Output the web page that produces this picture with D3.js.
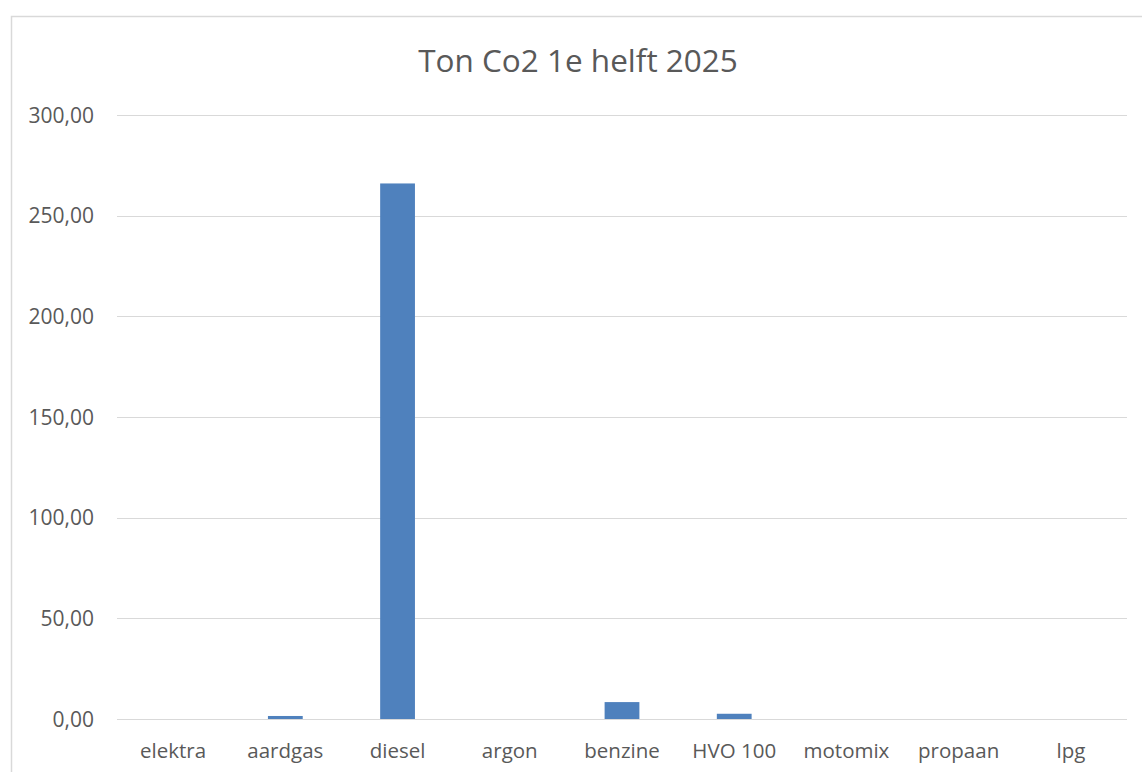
<!DOCTYPE html>
<html>
<head>
<meta charset="utf-8">
<script src="https://cdn.jsdelivr.net/npm/d3@7"></script>
<style>
  html, body { margin: 0; padding: 0; background: #fff; overflow: hidden; }
  svg { display: block; font-family: "Open Sans", "Noto Sans", sans-serif; }
</style>
</head>
<body>
<svg id="chart" width="1142" height="772"></svg>
<script>
// Ton CO2 per brandstof, eerste helft 2025
const categories = ["elektra", "aardgas", "diesel", "argon", "benzine", "HVO 100", "motomix", "propaan", "lpg"];
const values = [0, 1.5, 266, 0, 8.4, 2.6, 0, 0, 0];
const yTicks = [0, 50, 100, 150, 200, 250, 300];
const title = "Ton Co2 1e helft 2025";

(function () {
  const W = 1142, H = 772;
  const plot = { left: 117, right: 1127, top: 115, bottom: 719 };
  const svg = d3.select("#chart");

  // chart area frame (runs off the right and bottom edges)
  svg.append("rect")
    .attr("x", 11.5).attr("y", 16.5)
    .attr("width", W + 10).attr("height", H + 10)
    .attr("fill", "#fff").attr("stroke", "#d9d9d9").attr("stroke-width", 1.5);

  svg.append("text")
    .attr("x", 578).attr("y", 72)
    .attr("text-anchor", "middle")
    .attr("font-size", 31.5)
    .attr("fill", "#595959")
    .text(title);

  const x = d3.scaleBand().domain(categories).range([plot.left, plot.right]).paddingInner(0.69).paddingOuter(0.345);
  const y = d3.scaleLinear().domain([0, 300]).range([plot.bottom, plot.top]);

  const fmt = v => d3.format(".2f")(v).replace(".", ",");

  // gridlines
  svg.append("g").selectAll("line")
    .data(yTicks.filter(t => t > 0))
    .join("line")
    .attr("x1", plot.left).attr("x2", plot.right)
    .attr("y1", d => Math.round(y(d)) + 0.5).attr("y2", d => Math.round(y(d)) + 0.5)
    .attr("stroke", "#d9d9d9").attr("stroke-width", 1);

  // y labels
  svg.append("g").selectAll("text")
    .data(yTicks)
    .join("text")
    .attr("x", 94).attr("y", d => y(d) + 7.5)
    .attr("text-anchor", "end")
    .attr("font-size", 21)
    .attr("fill", "#595959")
    .text(fmt);

  // bars
  svg.append("g").selectAll("rect")
    .data(categories.map((c, i) => ({ c, v: values[i] })))
    .join("rect")
    .attr("x", d => x(d.c))
    .attr("width", x.bandwidth())
    .attr("y", d => y(d.v))
    .attr("height", d => y(0) - y(d.v))
    .attr("fill", "#4f81bd");

  // baseline axis
  svg.append("line")
    .attr("x1", plot.left).attr("x2", plot.right)
    .attr("y1", plot.bottom + 0.5).attr("y2", plot.bottom + 0.5)
    .attr("stroke", "#d9d9d9").attr("stroke-width", 1.2);

  // x labels
  const xc = d3.scaleBand().domain(categories).range([plot.left, plot.right]);
  svg.append("g").selectAll("text")
    .data(categories)
    .join("text")
    .attr("x", d => xc(d) + xc.bandwidth() / 2)
    .attr("y", 758)
    .attr("text-anchor", "middle")
    .attr("font-size", 20.5)
    .attr("fill", "#595959")
    .text(d => d);
})();
</script>
</body>
</html>
